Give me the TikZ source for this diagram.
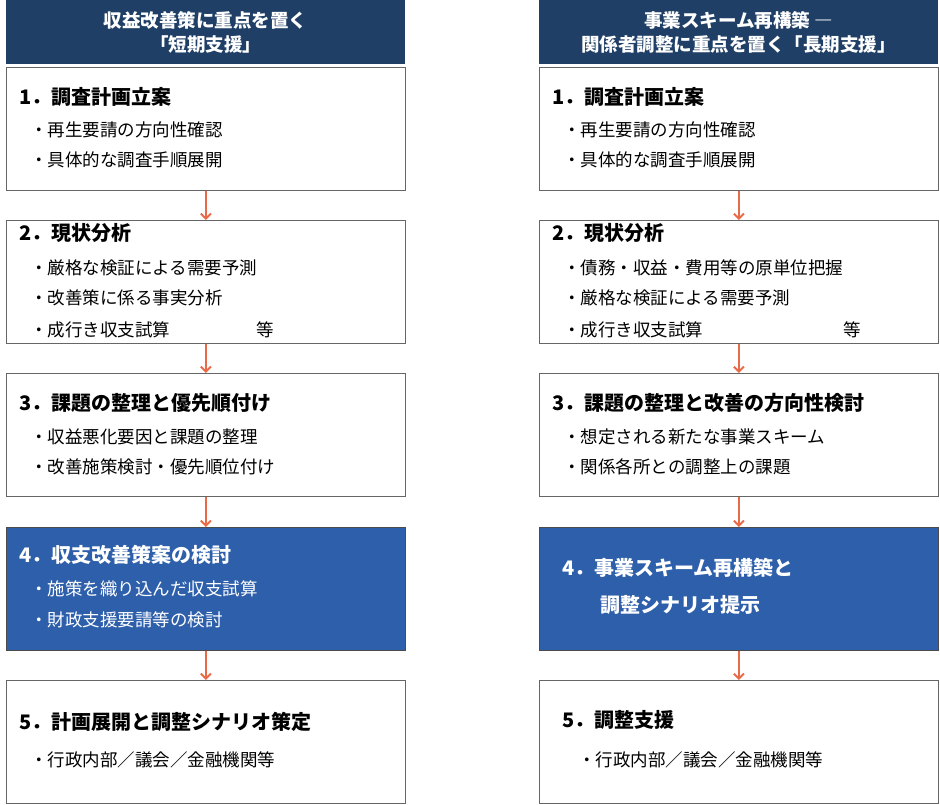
\documentclass[tikz,border=0pt]{standalone}
\usepackage{fontspec}
\setmainfont{Noto Sans CJK JP}
\usetikzlibrary{arrows.meta}
\definecolor{navy}{HTML}{1F3F66}
\definecolor{blue4}{HTML}{2E5FAA}
\definecolor{arr}{HTML}{EA6A47}
\begin{document}
\begin{tikzpicture}[x=1pt,y=-1pt,
 box/.style={draw=black!60,line width=0.8pt,fill=white,minimum width=399pt,minimum height=123pt,anchor=north west,inner sep=0},
 bluebox/.style={box,fill=blue4,draw=black!70},
 head/.style={fill=navy,minimum width=399pt,minimum height=64pt,anchor=north west,inner sep=0},
 htxt/.style={text=white,font=\bfseries\fontsize{18.5}{24}\selectfont,align=center},
 ttl/.style={anchor=west,inner sep=0,font=\bfseries\fontsize{20}{24}\selectfont},
 itm/.style={anchor=west,inner sep=0,font=\fontsize{17.5}{20}\selectfont},
 flow/.style={arr,line width=2pt,-{Straight Barb[length=5pt,width=10pt,line width=2pt]}}]
\useasboundingbox (0,0) rectangle (940,804);
% headers
\node[head] (hl) at (6,0) {};
\node[htxt] (hlt) at (205.5,32) {収益改善策に重点を置く\\「短期支援」};
\node[head] (hr) at (539,0) {};
\node[htxt] (hrt) at (738.5,32) {事業スキーム再構築 ―\\関係者調整に重点を置く「長期支援」};
% left boxes
\node[box] (l1) at (6,67) {};
\node[box] (l2) at (6,220) {};
\node[box] (l3) at (6,373) {};
\node[bluebox] (l4) at (6,527) {};
\node[box] (l5) at (6,680) {};
% right boxes
\node[box] (r1) at (539,67) {};
\node[box] (r2) at (539,220) {};
\node[box] (r3) at (539,373) {};
\node[bluebox] (r4) at (539,527) {};
\node[box] (r5) at (539,680) {};
% arrows
\foreach \a/\b in {l1/l2,l2/l3,l3/l4,l4/l5,r1/r2,r2/r3,r3/r4,r4/r5}
 \draw[flow] (\a.south) -- (\b.north);
% left texts
\node[ttl] (l1t) at (19,97) {1．調査計画立案};
\node[itm] (l1a) at (30,130) {・再生要請の方向性確認};
\node[itm] (l1b) at (30,160) {・具体的な調査手順展開};
\node[ttl] (l2t) at (19,233) {2．現状分析};
\node[itm] (l2a) at (30,268) {・厳格な検証による需要予測};
\node[itm] (l2b) at (30,298) {・改善策に係る事実分析};
\node[itm] (l2c) at (30,330) {・成行き収支試算};
\node[itm] (l2d) at (256,330) {等};
\node[ttl] (l3t) at (19,403) {3．課題の整理と優先順付け};
\node[itm] (l3a) at (30,437) {・収益悪化要因と課題の整理};
\node[itm] (l3b) at (30,467) {・改善施策検討・優先順位付け};
\node[ttl,text=white] (l4t) at (19,555) {4．収支改善策案の検討};
\node[itm,text=white] (l4a) at (30,589) {・施策を織り込んだ収支試算};
\node[itm,text=white] (l4b) at (30,620) {・財政支援要請等の検討};
\node[ttl] (l5t) at (19,722) {5．計画展開と調整シナリオ策定};
\node[itm] (l5a) at (30,760) {・行政内部／議会／金融機関等};
% right texts
\node[ttl] (r1t) at (552,97) {1．調査計画立案};
\node[itm] (r1a) at (563,130) {・再生要請の方向性確認};
\node[itm] (r1b) at (563,160) {・具体的な調査手順展開};
\node[ttl] (r2t) at (552,233) {2．現状分析};
\node[itm] (r2a) at (563,268) {・債務・収益・費用等の原単位把握};
\node[itm] (r2b) at (563,298) {・厳格な検証による需要予測};
\node[itm] (r2c) at (563,330) {・成行き収支試算};
\node[itm] (r2d) at (843,330) {等};
\node[ttl] (r3t) at (552,403) {3．課題の整理と改善の方向性検討};
\node[itm] (r3a) at (563,437) {・想定される新たな事業スキーム};
\node[itm] (r3b) at (563,467) {・関係各所との調整上の課題};
\node[ttl,text=white] (r4t) at (562,568) {4．事業スキーム再構築と};
\node[ttl,text=white] (r4u) at (600,605) {調整シナリオ提示};
\node[ttl] (r5t) at (562,720) {5．調整支援};
\node[itm] (r5a) at (578,760) {・行政内部／議会／金融機関等};
\end{tikzpicture}
\end{document}
